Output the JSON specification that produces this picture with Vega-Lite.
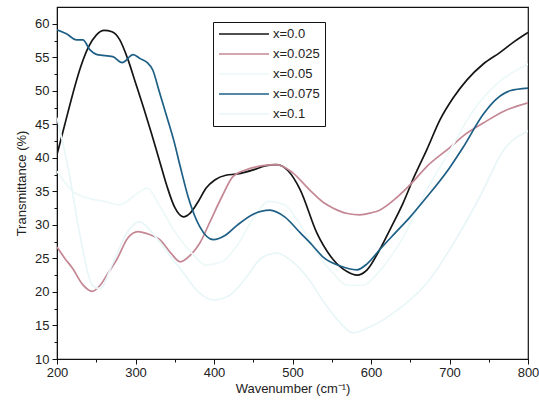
{
  "$schema": "https://vega.github.io/schema/vega-lite/v6.json",
  "width": 471,
  "height": 352,
  "autosize": "none",
  "padding": {"left": 57, "top": 7, "right": 11, "bottom": 47},
  "background": "white",
  "config": {
    "view": {"stroke": "#111", "strokeWidth": 1.2},
    "font": "Liberation Sans",
    "axis": {"labelFont": "Liberation Sans", "titleFont": "Liberation Sans", "labelColor": "#222", "titleColor": "#222", "domainColor": "#111", "tickColor": "#111", "grid": false, "labelFontSize": 13, "titleFontSize": 13, "titleFontWeight": "normal", "labelFlush": false, "labelOverlap": false}
  },
  "data": {"values": [
    {"s":"x=0.0","w":200,"t":40.5},{"s":"x=0.0","w":210,"t":45},{"s":"x=0.0","w":220,"t":49.5},{"s":"x=0.0","w":230,"t":53.5},{"s":"x=0.0","w":240,"t":56.5},{"s":"x=0.0","w":250,"t":58.3},{"s":"x=0.0","w":260,"t":59},{"s":"x=0.0","w":270,"t":58.8},{"s":"x=0.0","w":280,"t":57.6},{"s":"x=0.0","w":290,"t":54.8},{"s":"x=0.0","w":300,"t":51.2},{"s":"x=0.0","w":310,"t":47.6},{"s":"x=0.0","w":320,"t":43.8},{"s":"x=0.0","w":330,"t":39.8},{"s":"x=0.0","w":340,"t":35.8},{"s":"x=0.0","w":350,"t":32.6},{"s":"x=0.0","w":361,"t":31.2},{"s":"x=0.0","w":370,"t":31.8},{"s":"x=0.0","w":380,"t":33.5},{"s":"x=0.0","w":390,"t":35.5},{"s":"x=0.0","w":401,"t":36.7},{"s":"x=0.0","w":415,"t":37.4},{"s":"x=0.0","w":430,"t":37.6},{"s":"x=0.0","w":450,"t":38.2},{"s":"x=0.0","w":465,"t":38.8},{"s":"x=0.0","w":480,"t":39},{"s":"x=0.0","w":495,"t":38},{"s":"x=0.0","w":510,"t":35.2},{"s":"x=0.0","w":531,"t":28.8},{"s":"x=0.0","w":552,"t":24.8},{"s":"x=0.0","w":570,"t":23},{"s":"x=0.0","w":582,"t":22.5},{"s":"x=0.0","w":595,"t":23.3},{"s":"x=0.0","w":611,"t":26.3},{"s":"x=0.0","w":625,"t":29.5},{"s":"x=0.0","w":641,"t":33.3},{"s":"x=0.0","w":655,"t":37.2},{"s":"x=0.0","w":671,"t":41.2},{"s":"x=0.0","w":688,"t":45.7},{"s":"x=0.0","w":705,"t":49},{"s":"x=0.0","w":722,"t":51.6},{"s":"x=0.0","w":743,"t":54},{"s":"x=0.0","w":764,"t":55.7},{"s":"x=0.0","w":782,"t":57.3},{"s":"x=0.0","w":800,"t":58.7},
    {"s":"x=0.025","w":200,"t":26.7},{"s":"x=0.025","w":210,"t":25},{"s":"x=0.025","w":220,"t":23.5},{"s":"x=0.025","w":232,"t":21.2},{"s":"x=0.025","w":245,"t":20.1},{"s":"x=0.025","w":255,"t":21},{"s":"x=0.025","w":265,"t":22.8},{"s":"x=0.025","w":276,"t":24.8},{"s":"x=0.025","w":290,"t":28},{"s":"x=0.025","w":303,"t":29},{"s":"x=0.025","w":317,"t":28.6},{"s":"x=0.025","w":331,"t":27.8},{"s":"x=0.025","w":345,"t":25.8},{"s":"x=0.025","w":357,"t":24.5},{"s":"x=0.025","w":370,"t":25.5},{"s":"x=0.025","w":382,"t":27.3},{"s":"x=0.025","w":395,"t":30.5},{"s":"x=0.025","w":410,"t":34.2},{"s":"x=0.025","w":424,"t":37.2},{"s":"x=0.025","w":440,"t":38.2},{"s":"x=0.025","w":460,"t":38.8},{"s":"x=0.025","w":480,"t":39},{"s":"x=0.025","w":500,"t":37.8},{"s":"x=0.025","w":522,"t":35.2},{"s":"x=0.025","w":540,"t":33.3},{"s":"x=0.025","w":552,"t":32.5},{"s":"x=0.025","w":570,"t":31.7},{"s":"x=0.025","w":586,"t":31.5},{"s":"x=0.025","w":600,"t":31.8},{"s":"x=0.025","w":611,"t":32.2},{"s":"x=0.025","w":630,"t":33.8},{"s":"x=0.025","w":650,"t":36},{"s":"x=0.025","w":671,"t":38.7},{"s":"x=0.025","w":700,"t":41.5},{"s":"x=0.025","w":720,"t":43.5},{"s":"x=0.025","w":743,"t":45.2},{"s":"x=0.025","w":770,"t":47},{"s":"x=0.025","w":800,"t":48.2},
    {"s":"x=0.05","w":200,"t":38},{"s":"x=0.05","w":220,"t":35},{"s":"x=0.05","w":240,"t":34},{"s":"x=0.05","w":260,"t":33.5},{"s":"x=0.05","w":280,"t":33},{"s":"x=0.05","w":300,"t":34.5},{"s":"x=0.05","w":315,"t":35.5},{"s":"x=0.05","w":330,"t":33},{"s":"x=0.05","w":350,"t":29},{"s":"x=0.05","w":370,"t":26},{"s":"x=0.05","w":390,"t":24},{"s":"x=0.05","w":410,"t":24.5},{"s":"x=0.05","w":430,"t":27},{"s":"x=0.05","w":450,"t":31},{"s":"x=0.05","w":470,"t":33.5},{"s":"x=0.05","w":490,"t":33},{"s":"x=0.05","w":510,"t":30},{"s":"x=0.05","w":530,"t":26},{"s":"x=0.05","w":550,"t":23},{"s":"x=0.05","w":570,"t":21},{"s":"x=0.05","w":590,"t":21},{"s":"x=0.05","w":610,"t":23},{"s":"x=0.05","w":640,"t":28},{"s":"x=0.05","w":670,"t":35},{"s":"x=0.05","w":700,"t":41},{"s":"x=0.05","w":730,"t":47},{"s":"x=0.05","w":760,"t":51},{"s":"x=0.05","w":800,"t":54},
    {"s":"x=0.075","w":200,"t":59.1},{"s":"x=0.075","w":212,"t":58.5},{"s":"x=0.075","w":225,"t":57.6},{"s":"x=0.075","w":233,"t":57.6},{"s":"x=0.075","w":242,"t":56.1},{"s":"x=0.075","w":251,"t":55.4},{"s":"x=0.075","w":271,"t":55.1},{"s":"x=0.075","w":283,"t":54.2},{"s":"x=0.075","w":297,"t":55.4},{"s":"x=0.075","w":306,"t":54.8},{"s":"x=0.075","w":315,"t":54.2},{"s":"x=0.075","w":322,"t":53.1},{"s":"x=0.075","w":330,"t":50},{"s":"x=0.075","w":340,"t":46.1},{"s":"x=0.075","w":349,"t":42.5},{"s":"x=0.075","w":357,"t":38.7},{"s":"x=0.075","w":367,"t":34.2},{"s":"x=0.075","w":382,"t":29.7},{"s":"x=0.075","w":399,"t":27.8},{"s":"x=0.075","w":415,"t":28.5},{"s":"x=0.075","w":430,"t":30},{"s":"x=0.075","w":450,"t":31.6},{"s":"x=0.075","w":471,"t":32.2},{"s":"x=0.075","w":490,"t":31.2},{"s":"x=0.075","w":510,"t":28.8},{"s":"x=0.075","w":525,"t":27},{"s":"x=0.075","w":539,"t":25.2},{"s":"x=0.075","w":560,"t":23.9},{"s":"x=0.075","w":582,"t":23.3},{"s":"x=0.075","w":595,"t":24.2},{"s":"x=0.075","w":611,"t":26.3},{"s":"x=0.075","w":630,"t":28.7},{"s":"x=0.075","w":650,"t":31.2},{"s":"x=0.075","w":670,"t":34},{"s":"x=0.075","w":700,"t":38.5},{"s":"x=0.075","w":717,"t":41.5},{"s":"x=0.075","w":743,"t":46.5},{"s":"x=0.075","w":760,"t":48.8},{"s":"x=0.075","w":777,"t":50},{"s":"x=0.075","w":800,"t":50.4},
    {"s":"x=0.1","w":200,"t":46},{"s":"x=0.1","w":215,"t":38},{"s":"x=0.1","w":230,"t":28},{"s":"x=0.1","w":245,"t":21},{"s":"x=0.1","w":255,"t":20.5},{"s":"x=0.1","w":270,"t":24},{"s":"x=0.1","w":290,"t":29},{"s":"x=0.1","w":305,"t":30.5},{"s":"x=0.1","w":320,"t":29},{"s":"x=0.1","w":340,"t":26},{"s":"x=0.1","w":360,"t":23},{"s":"x=0.1","w":380,"t":20},{"s":"x=0.1","w":400,"t":18.8},{"s":"x=0.1","w":420,"t":19.5},{"s":"x=0.1","w":440,"t":22},{"s":"x=0.1","w":460,"t":25},{"s":"x=0.1","w":480,"t":25.8},{"s":"x=0.1","w":500,"t":24.5},{"s":"x=0.1","w":520,"t":22},{"s":"x=0.1","w":540,"t":18.5},{"s":"x=0.1","w":560,"t":15.5},{"s":"x=0.1","w":577,"t":13.9},{"s":"x=0.1","w":599,"t":14.8},{"s":"x=0.1","w":630,"t":17},{"s":"x=0.1","w":671,"t":21.3},{"s":"x=0.1","w":713,"t":28.8},{"s":"x=0.1","w":740,"t":34.5},{"s":"x=0.1","w":768,"t":41},{"s":"x=0.1","w":800,"t":44}
  ]},
  "mark": {"type": "line", "interpolate": "monotone", "strokeWidth": 1.7, "clip": true},
  "encoding": {
    "x": {"field": "w", "type": "quantitative", "scale": {"domain": [200, 800], "nice": false},
      "axis": {"title": "Wavenumber (cm⁻¹)", "values": [200,250,300,350,400,450,500,550,600,650,700,750,800],
        "labelExpr": "datum.value % 100 === 0 ? datum.label : ''",
        "tickSize": {"condition": {"test": "datum.value % 100 === 0", "value": 5}, "value": 3},
        "labelPadding": 2, "titlePadding": 3}},
    "y": {"field": "t", "type": "quantitative", "scale": {"domain": [10, 62.5], "nice": false, "zero": false},
      "axis": {"title": "Transmittance (%)", "values": [10,12.5,15,17.5,20,22.5,25,27.5,30,32.5,35,37.5,40,42.5,45,47.5,50,52.5,55,57.5,60],
        "labelExpr": "datum.value % 5 === 0 ? datum.label : ''",
        "tickSize": {"condition": {"test": "datum.value % 5 === 0", "value": 5}, "value": 3},
        "labelPadding": 3, "titlePadding": 6}},
    "color": {"field": "s", "type": "nominal",
      "scale": {"domain": ["x=0.0","x=0.025","x=0.05","x=0.075","x=0.1"], "range": ["#151515","#c48794","#edf8f9","#1e5f86","#e8f6f8"]},
      "legend": {"title": null, "orient": "none", "legendX": 156, "legendY": 15, "strokeColor": "#111", "padding": 5,
        "symbolType": "stroke", "symbolSize": 2500, "clipHeight": 14, "symbolStrokeWidth": 1.7, "labelFontSize": 13, "labelFont": "Liberation Sans", "labelColor": "#222", "rowPadding": 6, "labelOffset": 3}}
  }
}
